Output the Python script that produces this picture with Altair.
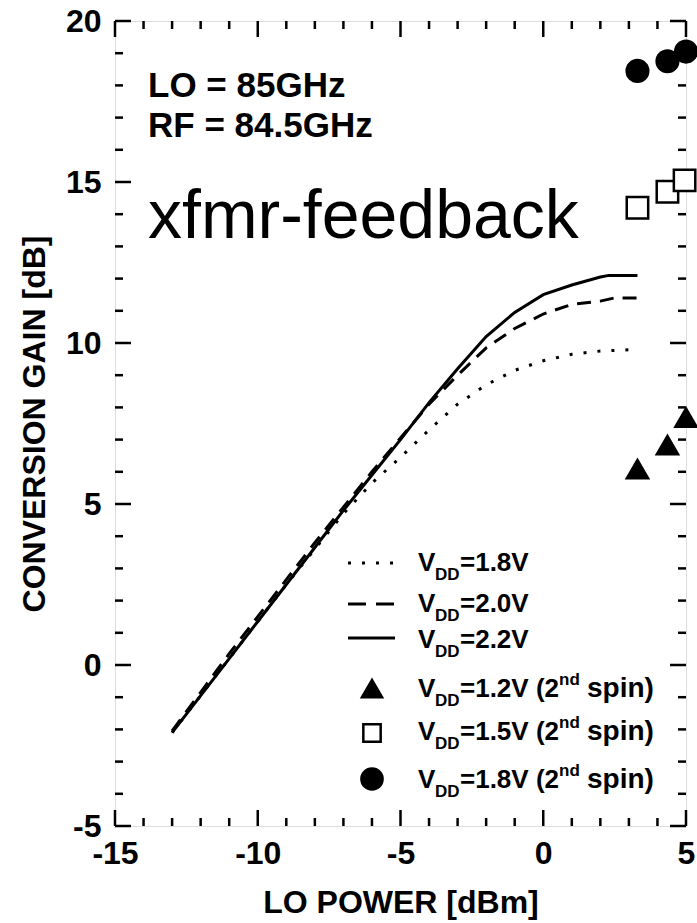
import altair as alt
import pandas as pd

FONT = "Liberation Sans"

# ---- data ----
vdd18_x = [-13, -12, -11, -10, -9, -8, -7, -6, -5, -4, -3, -2, -1, 0, 1, 2, 3.3]
vdd18_y = [-2.1, -0.95, 0.2, 1.35, 2.5, 3.6, 4.7, 5.65, 6.45, 7.3, 8.1, 8.7, 9.15, 9.45, 9.65, 9.75, 9.8]
vdd20_x = [-13, -12, -11, -10, -9, -8, -7, -6, -5, -4, -3, -2, -1, 0, 1, 2, 2.5, 3.3]
vdd20_y = [-2.05, -0.85, 0.35, 1.5, 2.65, 3.8, 4.9, 6.0, 7.05, 8.1, 9.0, 9.85, 10.45, 10.9, 11.2, 11.3, 11.4, 11.4]
vdd22_x = [-13, -12, -11, -10, -9, -8, -7, -6, -5, -4, -3, -2, -1, 0, 1, 2, 2.3, 3.3]
vdd22_y = [-2.1, -0.95, 0.2, 1.35, 2.5, 3.65, 4.8, 5.9, 7.0, 8.15, 9.2, 10.2, 10.95, 11.5, 11.8, 12.05, 12.1, 12.1]

tri_x = [3.3, 4.35, 5.0]
tri_y = [6.1, 6.85, 7.7]
sq_x = [3.3, 4.35, 4.95]
sq_y = [14.2, 14.7, 15.05]
circ_x = [3.3, 4.35, 5.0]
circ_y = [18.45, 18.75, 19.05]

x_major = [-15, -10, -5, 0, 5]
x_minor = [v for v in range(-15, 6) if v not in x_major]
y_major = [-5, 0, 5, 10, 15, 20]
y_minor = [v for v in range(-5, 21) if v not in y_major]

legend_vdd = ["1.8V", "2.0V", "2.2V", "1.2V", "1.5V", "1.8V"]
legend_spin = [False, False, False, True, True, True]

annot_lines = ["LO = 85GHz", "RF = 84.5GHz"]
big_label = "xfmr-feedback"
x_title = "LO POWER [dBm]"
y_title = "CONVERSION GAIN [dB]"

# ---- layout ----
W, H = 571, 805
xs = alt.Scale(domain=[-15, 5], nice=False, zero=False)
ys = alt.Scale(domain=[-5, 20], nice=False, zero=False)

X_AXIS = alt.Axis(values=x_major, ticks=False, tickSize=0, domain=False, grid=False,
                  labelExpr="toString(datum.value)",
                  labelFont=FONT, labelFontSize=32, labelFontWeight="bold", labelColor="black",
                  labelPadding=12, titleFont=FONT, titleFontSize=32, titleFontWeight="bold",
                  titleColor="black", titlePadding=18, labelFlush=False, labelOverlap=False)
Y_AXIS = alt.Axis(values=y_major, ticks=False, tickSize=0, domain=False, grid=False,
                  labelExpr="toString(datum.value)",
                  labelFont=FONT, labelFontSize=32, labelFontWeight="bold", labelColor="black",
                  labelPadding=14, titleFont=FONT, titleFontSize=32, titleFontWeight="bold",
                  titleColor="black", titlePadding=14, labelFlush=False, labelOverlap=False)

one = pd.DataFrame({"a": [0]})


def X(field):
    return alt.X(field, scale=xs, title=x_title, axis=X_AXIS)


def Y(field):
    return alt.Y(field, scale=ys, title=y_title, axis=Y_AXIS)


def series_df(xv, yv):
    return pd.DataFrame({"x": xv, "y": yv})


def line_layer(xv, yv, dash=None):
    kw = dict(color="black", strokeWidth=3, strokeCap="butt", clip=False)
    if dash:
        kw["strokeDash"] = dash
    return alt.Chart(series_df(xv, yv)).mark_line(**kw).encode(x=X("x:Q"), y=Y("y:Q"))


def point_layer(xv, yv, shape, size, filled):
    return alt.Chart(series_df(xv, yv)).mark_point(
        shape=shape, size=size, filled=filled, color="black",
        strokeWidth=2.5, opacity=1, fill="black" if filled else "white").encode(
        x=X("x:Q"), y=Y("y:Q"))


def txt(s, x, y, size, weight="bold", align="left", baseline="alphabetic"):
    return alt.Chart(one).mark_text(
        text=s, font=FONT, fontSize=size, fontWeight=weight, align=align,
        baseline=baseline, color="black").encode(x=alt.value(x), y=alt.value(y))


def vrule(vals, y0, y1):
    return alt.Chart(pd.DataFrame({"x": vals})).mark_rule(color="black", strokeWidth=2.5).encode(
        x=X("x:Q"), y=alt.value(y0), y2=alt.value(y1))


def hrule(vals, x0, x1):
    return alt.Chart(pd.DataFrame({"y": vals})).mark_rule(color="black", strokeWidth=2.5).encode(
        y=Y("y:Q"), x=alt.value(x0), x2=alt.value(x1))


MAJ, MIN = 16, 8

layers = []
# inward ticks on all four sides
layers += [vrule(x_major, H, H - MAJ), vrule(x_minor, H, H - MIN),
           vrule(x_major, 0, MAJ), vrule(x_minor, 0, MIN),
           hrule(y_major, 0, MAJ), hrule(y_minor, 0, MIN),
           hrule(y_major, W, W - MAJ), hrule(y_minor, W, W - MIN)]

layers += [
    line_layer(vdd18_x, vdd18_y, dash=[3, 11]),
    line_layer(vdd20_x, vdd20_y, dash=[14, 9]),
    line_layer(vdd22_x, vdd22_y),
    point_layer(tri_x, tri_y, "triangle-up", 650, True),
    point_layer(sq_x, sq_y, "square", 460, False),
    point_layer(circ_x, circ_y, "circle", 580, True),
]

# annotations
layers += [txt(annot_lines[0], 33, 76, 35), txt(annot_lines[1], 33, 116, 35),
           txt(big_label, 33, 217, 68, weight="normal")]

# legend
row_base = [550, 591, 627, 676, 719, 767]
sample_mid = [542, 583, 617]
dashes = [[3, 11], [18, 10], None]
for i in range(3):
    kw = dict(color="black", strokeWidth=3)
    if dashes[i]:
        kw["strokeDash"] = dashes[i]
    layers.append(alt.Chart(one).mark_rule(**kw).encode(
        x=alt.value(233), x2=alt.value(280), y=alt.value(sample_mid[i])))

marker_specs = [("triangle-up", 600, True, 667), ("square", 300, False, 712), ("circle", 560, True, 758)]
for shape, size, filled, yy in marker_specs:
    layers.append(alt.Chart(one).mark_point(
        shape=shape, size=size, filled=filled, color="black", strokeWidth=2.5, opacity=1,
        fill="black" if filled else "white").encode(x=alt.value(257), y=alt.value(yy)))

for i, (v, spin) in enumerate(zip(legend_vdd, legend_spin)):
    b = row_base[i]
    layers.append(txt("V", 303, b, 26))
    layers.append(txt("DD", 320, b + 9, 17))
    if spin:
        layers.append(txt("=" + v + " (2", 345, b, 26))
        layers.append(txt("nd", 444, b - 12, 17))
        layers.append(txt("spin)", 472, b, 28))
    else:
        layers.append(txt("=" + v, 345, b, 26))

chart = alt.layer(*layers).properties(
    width=W, height=H,
    autosize=alt.AutoSizeParams(type="none"),
    padding={"left": 115, "top": 21, "right": 11, "bottom": 97},
).configure_view(stroke="black", strokeWidth=3).configure(background="white")

chart.save("out.html", embed_options={"renderer": "svg", "actions": False})
